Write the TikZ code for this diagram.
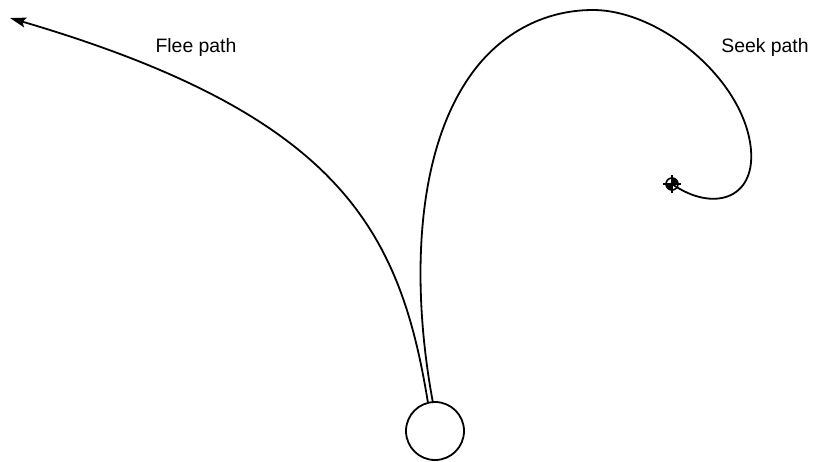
\documentclass[tikz,border=0pt]{standalone}
\usepackage{fontspec}
\setmainfont{Liberation Sans}
\usetikzlibrary{arrows.meta, positioning}

\begin{document}
\begin{tikzpicture}[
    x=0.5pt, y=-0.5pt,
    agent/.style={circle, draw=black, line width=0.9pt, minimum size=29pt, inner sep=0pt},
    pathline/.style={line width=0.9pt, black},
    lbl/.style={font=\fontsize{9.7}{11}\selectfont, anchor=center},
]
\useasboundingbox (0,0) rectangle (819,461);

%% ── agent and target ─────────────────────────────────────────────
\node[agent]        (agent)  at (435,431) {};
\coordinate         (fleeS)  at (428,403);
\coordinate         (seekS)  at (433,403);
\coordinate         (fleeE)  at (10,18);
\coordinate         (goal)   at (672,184);

%% ── paths ─────────────────────────────────────────────────────────
\draw[pathline, -{Stealth[length=8pt, width=5pt, inset=1.5pt]}]
    (fleeS) .. controls (400,230) and (340,115) .. (fleeE);
\draw[pathline]
    (seekS) .. controls (410,280) and (415,140) .. (480,63)
            .. controls (510,28) and (550,10) .. (593,10)
            .. controls (660,10) and (745,80) .. (751,150)
            .. controls (755,200) and (712,212) .. (goal);

%% ── target marker ─────────────────────────────────────────────────
\fill[black] (goal) -- ++(-6,0) arc (180:90:6) -- cycle;
\fill[black] (goal) -- ++(6,0) arc (0:-90:6) -- cycle;
\draw[line width=0.8pt] (goal) circle (6);
\draw[line width=0.7pt] ([xshift=-9*0.5pt]goal) -- ([xshift=9*0.5pt]goal)
                        ([yshift=-9*0.5pt]goal) -- ([yshift=9*0.5pt]goal);

%% ── labels ────────────────────────────────────────────────────────
\node[lbl] (fleeL) at (196,47) {Flee path};
\node[lbl] (seekL) at (765,47) {Seek path};

\end{tikzpicture}
\end{document}
